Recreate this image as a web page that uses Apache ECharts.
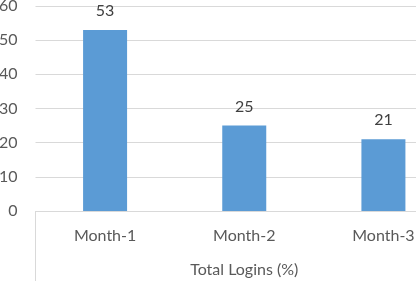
<!DOCTYPE html>
<html>
<head>
<meta charset="UTF-8">
<title></title>
<script src="https://cdn.jsdelivr.net/npm/echarts@6/dist/echarts.min.js"></script>
<style>
	html, body { margin: 0; padding: 0; background: #fff; overflow: hidden; }
	/* the original chart is wider than the picture: its right side is cut off */
	#main { width: 453px; height: 281px; }
</style>
</head>
<body>
<div id="main"></div>
<script>
	// categories and values
	var months = ['Month-1', 'Month-2', 'Month-3'];
	var logins = [53, 25, 21];
	var yTicks = [0, 10, 20, 30, 40, 50, 60];

	var font = 'Lato, "Open Sans", sans-serif';
	var myChart = echarts.init(document.getElementById('main'));

	myChart.setOption({
		animation: false,
		grid: { left: 35.5, right: 0, top: 6, bottom: 70, containLabel: false, outerBoundsMode: 'none' },
		xAxis: {
			type: 'category',
			data: months,
			name: 'Total Logins (%)',
			nameLocation: 'middle',
			nameGap: 51,
			nameTextStyle: { color: '#595959', fontSize: 16, fontFamily: font },
			axisLine: { lineStyle: { color: '#d9d9d9', width: 1 } },
			axisTick: {
				show: true,
				length: 70,
				interval: function(index) { return index === 0; },
				lineStyle: { color: '#d9d9d9' }
			},
			axisLabel: { color: '#595959', fontSize: 16, fontFamily: font, margin: 17 }
		},
		yAxis: {
			type: 'value',
			min: yTicks[0],
			max: yTicks[yTicks.length - 1],
			interval: 10,
			axisLine: { show: false },
			axisTick: { show: false },
			splitLine: { lineStyle: { color: '#d9d9d9' } },
			axisLabel: { color: '#595959', fontSize: 16, fontFamily: font, margin: 18 }
		},
		series: [{
			type: 'bar',
			data: logins,
			barWidth: 44,
			itemStyle: { color: '#5b9bd5' },
			label: {
				show: true,
				position: 'top',
				distance: 11,
				color: '#404040',
				fontSize: 16,
				fontFamily: font
			}
		}]
	});
</script>
</body>
</html>
